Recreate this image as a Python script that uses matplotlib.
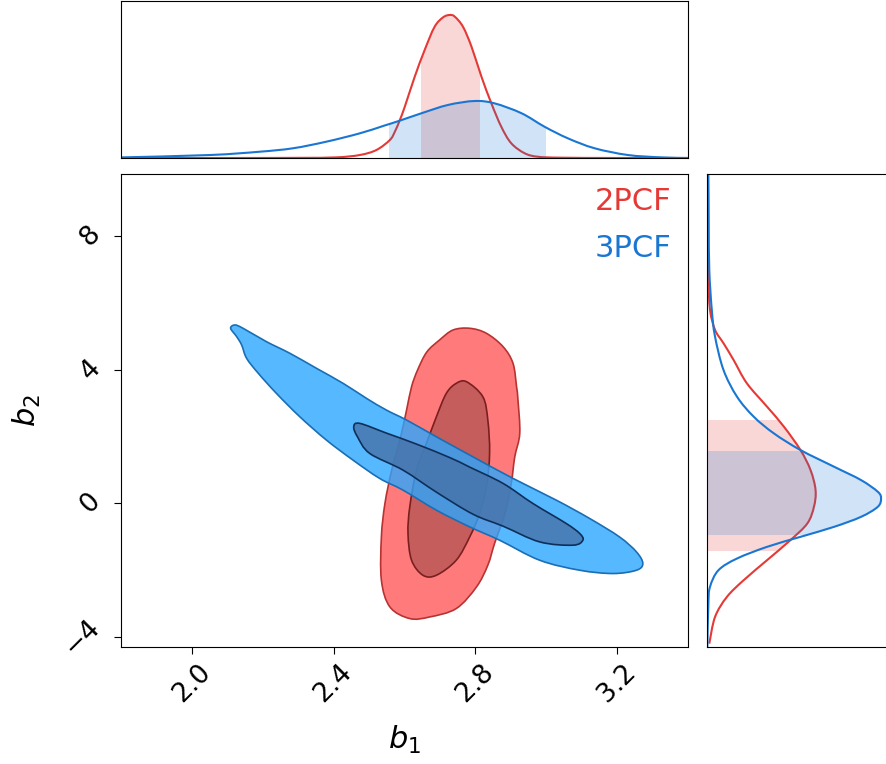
import numpy as np
import matplotlib
matplotlib.use("Agg")
import matplotlib.pyplot as plt
from matplotlib.patches import Rectangle, PathPatch
from matplotlib.path import Path

# chain names and colours
names = ["2PCF", "3PCF"]
line_colors = ["#E53935", "#1976D2"]

# --- 2D contours (b1, b2) ---
red_outer_b1 = [2.784, 2.831, 2.878, 2.906, 2.916, 2.920, 2.925, 2.911, 2.901, 2.883, 2.854,
                2.835, 2.803, 2.746, 2.671, 2.615, 2.559, 2.535, 2.535, 2.545, 2.564, 2.587,
                2.606, 2.620, 2.637, 2.663, 2.699, 2.737]
red_outer_b2 = [5.247, 5.097, 4.696, 4.198, 3.496, 3.097, 2.099, 1.397, 0.600, -0.300, -1.199,
                -1.850, -2.501, -3.148, -3.400, -3.448, -3.100, -2.300, -1.001, 0.000, 0.998, 1.898,
                2.798, 3.496, 3.997, 4.537, 4.897, 5.196]
red_inner_b1 = [2.775, 2.821, 2.835, 2.840, 2.831, 2.812, 2.784, 2.746, 2.690, 2.652, 2.620,
                2.610, 2.615, 2.634, 2.662, 2.690, 2.718, 2.746]
red_inner_b2 = [3.646, 3.196, 2.498, 1.499, 0.498, -0.300, -1.001, -1.700, -2.150, -2.150, -1.700,
                -0.900, -0.102, 0.998, 1.799, 2.597, 3.298, 3.598]

blue_outer_b1 = [2.110, 2.122, 2.145, 2.211, 2.277, 2.352, 2.427, 2.493, 2.549, 2.606, 2.690,
                 2.793, 2.906, 3.028, 3.122, 3.206, 3.254, 3.272, 3.254, 3.188, 3.094, 2.981,
                 2.868, 2.784, 2.690, 2.596, 2.530, 2.455, 2.380, 2.305, 2.239, 2.188, 2.155,
                 2.141, 2.127]
blue_outer_b2 = [5.247, 5.346, 5.247, 4.846, 4.498, 4.048, 3.598, 3.148, 2.798, 2.498, 1.997,
                 1.397, 0.750, 0.099, -0.450, -1.001, -1.451, -1.799, -2.000, -2.099, -2.000, -1.700,
                 -1.100, -0.702, -0.201, 0.399, 0.750, 1.298, 1.898, 2.597, 3.298, 3.898, 4.348,
                 4.747, 4.996]
blue_inner_b1 = [2.457, 2.474, 2.549, 2.634, 2.728, 2.784, 2.878, 2.962, 3.056, 3.094, 3.103,
                 3.075, 2.981, 2.878, 2.793, 2.690, 2.596, 2.502, 2.468]
blue_inner_b2 = [2.297, 2.399, 2.108, 1.778, 1.373, 1.088, 0.600, 0.000, -0.600, -0.900, -1.100,
                 -1.250, -1.151, -0.681, -0.321, 0.339, 0.998, 1.499, 1.988]

# --- 1D marginals ---
red_b1 = [1.800, 2.100, 2.300, 2.408, 2.474, 2.521, 2.559, 2.573, 2.587, 2.601, 2.629, 2.657,
          2.685, 2.709, 2.728, 2.742, 2.765, 2.789, 2.817, 2.845, 2.873, 2.901, 2.939, 2.976,
          3.042, 3.200, 3.400]
red_p1 = [0.000, 0.000, 0.001, 0.004, 0.019, 0.051, 0.115, 0.168, 0.242, 0.327, 0.518, 0.688,
          0.836, 0.896, 0.911, 0.900, 0.836, 0.709, 0.518, 0.348, 0.199, 0.094, 0.030, 0.008,
          0.002, 0.000, 0.000]
blue_b1 = [1.800, 1.807, 2.052, 2.192, 2.286, 2.380, 2.474, 2.540, 2.587, 2.648, 2.723, 2.798,
           2.854, 2.930, 2.995, 3.061, 3.136, 3.230, 3.324, 3.400]
blue_p1 = [0.003, 0.004, 0.019, 0.040, 0.062, 0.104, 0.157, 0.204, 0.238, 0.285, 0.338, 0.363,
           0.348, 0.285, 0.199, 0.125, 0.062, 0.019, 0.004, 0.000]
red_band_b1 = [2.648, 2.812]
blue_band_b1 = [2.557, 3.000]

red_b2 = [9.87, 8.50, 7.50, 6.70, 5.80, 5.20, 4.80, 4.30, 3.60, 2.90, 2.30, 1.60, 1.00, 0.40,
          -0.10, -0.60, -1.10, -1.70, -2.30, -2.80, -3.40, -4.20]
red_p2 = [0.000, 0.000, 0.002, 0.006, 0.015, 0.043, 0.090, 0.146, 0.220, 0.332, 0.426, 0.518,
          0.574, 0.602, 0.593, 0.556, 0.462, 0.332, 0.202, 0.109, 0.043, 0.011]
blue_b2 = [9.87, 9.79, 8.40, 7.00, 5.80, 5.00, 4.00, 3.20, 2.60, 2.10, 1.60, 1.10, 0.70, 0.35,
           0.15, -0.10, -0.40, -0.70, -1.00, -1.30, -1.65, -2.00, -2.50, -3.00, -4.30]
blue_p2 = [0.002, 0.006, 0.008, 0.011, 0.025, 0.043, 0.090, 0.165, 0.258, 0.370, 0.518, 0.705,
           0.855, 0.948, 0.966, 0.948, 0.855, 0.705, 0.518, 0.332, 0.165, 0.062, 0.015, 0.006,
           0.000]
red_band_b2 = [-1.421, 2.498]
blue_band_b2 = [-0.930, 1.568]

xlim = (1.80, 3.40)
ylim = (-4.31, 9.87)


def bezier_verts(xs, ys, closed):
    # smooth cubic path through the read points (catmull-rom style handles)
    p = np.column_stack([xs, ys]).astype(float)
    n = len(p)
    if closed:
        idx = lambda i: p[i % n]
        nseg = n
    else:
        idx = lambda i: p[min(max(i, 0), n - 1)]
        nseg = n - 1
    verts = [p[0]]
    codes = [Path.MOVETO]
    for i in range(nseg):
        p0, p1, p2, p3 = idx(i - 1), idx(i), idx(i + 1), idx(i + 2)
        verts += [p1 + (p2 - p0) / 6.0, p2 - (p3 - p1) / 6.0, p2]
        codes += [Path.CURVE4] * 3
    return verts, codes


def smooth_patch(ax, xs, ys, **kw):
    verts, codes = bezier_verts(xs, ys, True)
    verts.append(verts[0])
    codes.append(Path.CLOSEPOLY)
    patch = PathPatch(Path(verts, codes), **kw)
    ax.add_patch(patch)
    return patch


def smooth_line(ax, xs, ys, **kw):
    verts, codes = bezier_verts(xs, ys, False)
    ax.add_patch(PathPatch(Path(verts, codes), facecolor="none", **kw))


def smooth_fill(ax, xs, ys, base_pts, **kw):
    verts, codes = bezier_verts(xs, ys, False)
    for b in base_pts:
        verts.append(np.array(b, dtype=float))
        codes.append(Path.LINETO)
    verts.append(verts[0])
    codes.append(Path.CLOSEPOLY)
    patch = PathPatch(Path(verts, codes), **kw)
    ax.add_patch(patch)
    return patch


fig = plt.figure(figsize=(8.86, 7.64), dpi=100)
ax_main = fig.add_axes([0.1362, 0.1527, 0.6406, 0.6196])
ax_top = fig.add_axes([0.1362, 0.7932, 0.6406, 0.2055])
ax_right = fig.add_axes([0.7983, 0.1527, 0.2030, 0.6196])

# contours: 2PCF first, 3PCF on top
smooth_patch(ax_main, red_outer_b1, red_outer_b2, facecolor="#FF7B7B", edgecolor="#B83232", lw=1.2, zorder=1)
smooth_patch(ax_main, red_inner_b1, red_inner_b2, facecolor="#C55D5D", edgecolor="#7A1F1F", lw=1.2, zorder=2)
smooth_patch(ax_main, blue_outer_b1, blue_outer_b2, facecolor="#2CA6FF", alpha=0.8, edgecolor="none", zorder=3)
smooth_patch(ax_main, blue_outer_b1, blue_outer_b2, facecolor="none", edgecolor="#1A6EB4", lw=1.2, zorder=3)
smooth_patch(ax_main, blue_inner_b1, blue_inner_b2, facecolor="#4672A8", alpha=0.8, edgecolor="none", zorder=4)
smooth_patch(ax_main, blue_inner_b1, blue_inner_b2, facecolor="none", edgecolor="#0E2F5A", lw=1.2, zorder=4)

ax_main.set_xlim(xlim)
ax_main.set_ylim(ylim)
ax_main.set_xticks([2.0, 2.4, 2.8, 3.2])
ax_main.set_yticks([-4, 0, 4, 8])
ax_main.set_xticklabels(["2.0", "2.4", "2.8", "3.2"], rotation=45, fontsize=19)
ax_main.set_yticklabels(["\u22124", "0", "4", "8"], rotation=45, fontsize=19, va="center")
ax_main.tick_params(length=5)
ax_main.tick_params(axis="y", pad=6)
ax_main.set_xlabel("$b_1$", fontsize=22, labelpad=12)
ax_main.set_ylabel("$b_2$", fontsize=22, labelpad=12)

# legend as coloured text
ax_main.text(0.971, 0.942, names[0], color=line_colors[0], fontsize=22,
             ha="right", va="center", transform=ax_main.transAxes)
ax_main.text(0.971, 0.843, names[1], color=line_colors[1], fontsize=22,
             ha="right", va="center", transform=ax_main.transAxes)

# top marginal (b1)
for xs, ps, band, c in [(red_b1, red_p1, red_band_b1, line_colors[0]),
                        (blue_b1, blue_p1, blue_band_b1, line_colors[1])]:
    poly = smooth_fill(ax_top, xs, ps, [(xs[-1], 0), (xs[0], 0)],
                       facecolor=c, alpha=0.2, lw=0)
    clip = Rectangle((band[0], 0), band[1] - band[0], 2, transform=ax_top.transData)
    poly.set_clip_path(clip)
    smooth_line(ax_top, xs, ps, edgecolor=c, lw=1.5)
ax_top.set_xlim(xlim)
ax_top.set_ylim(0, 1)
ax_top.set_xticks([])
ax_top.set_yticks([])

# right marginal (b2)
for ys, ps, band, c in [(red_b2, red_p2, red_band_b2, line_colors[0]),
                        (blue_b2, blue_p2, blue_band_b2, line_colors[1])]:
    poly = smooth_fill(ax_right, ps, ys, [(0, ys[-1]), (0, ys[0])],
                       facecolor=c, alpha=0.2, lw=0)
    clip = Rectangle((0, band[0]), 2, band[1] - band[0], transform=ax_right.transData)
    poly.set_clip_path(clip)
    smooth_line(ax_right, ps, ys, edgecolor=c, lw=1.5)
ax_right.set_ylim(ylim)
ax_right.set_xlim(0, 1)
ax_right.set_xticks([])
ax_right.set_yticks([])

fig.savefig("out.png", dpi=100)
